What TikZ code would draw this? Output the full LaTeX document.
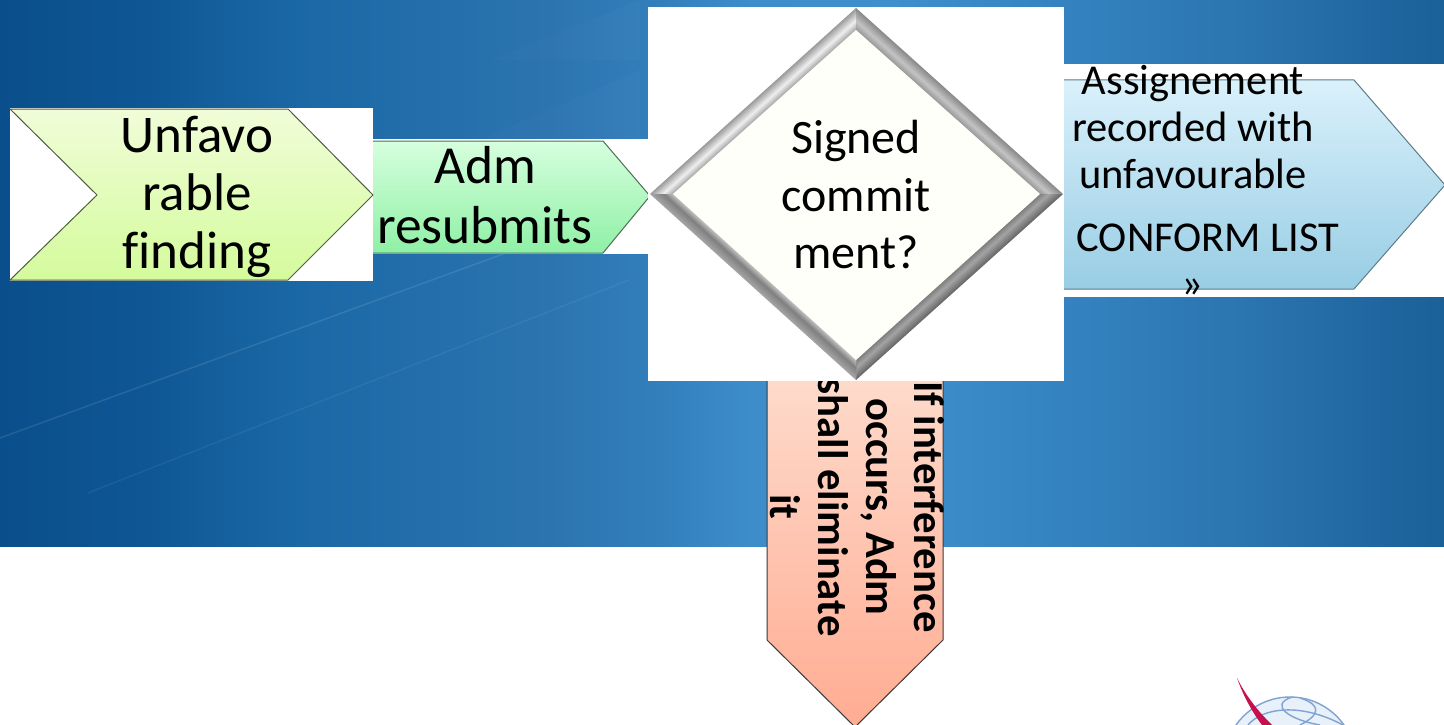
\documentclass[tikz,border=0pt]{standalone}
\usepackage{fontspec}
\setmainfont[Ligatures=NoCommon]{Carlito}
\usetikzlibrary{calc}
\definecolor{chevT}{HTML}{F0FDD8}
\definecolor{chevB}{HTML}{D4FB9C}
\definecolor{chevE}{HTML}{4E5E40}
\definecolor{admT}{HTML}{D6FFDE}
\definecolor{admB}{HTML}{8FF0A5}
\definecolor{admE}{HTML}{4E6E58}
\definecolor{recT}{HTML}{DAF1FB}
\definecolor{recB}{HTML}{98CDE4}
\definecolor{recE}{HTML}{5E7A88}
\definecolor{warnT}{HTML}{FEDBCC}
\definecolor{warnB}{HTML}{FFAC92}
\definecolor{warnE}{HTML}{3A3A3A}
\definecolor{dfill}{HTML}{FEFFF8}
\definecolor{globeL}{HTML}{7FA3D2}
\definecolor{globeF}{HTML}{E8F0FA}
\definecolor{needle}{HTML}{C80F4E}
\definecolor{gA}{HTML}{9A9A9A}
\definecolor{gB}{HTML}{EFEFEF}
\definecolor{gC}{HTML}{B0B0B0}
\definecolor{hA}{HTML}{8A8A8A}
\definecolor{hB}{HTML}{C4C4C4}
\definecolor{hC}{HTML}{9C9C9C}
\definecolor{jA}{HTML}{6A6A6A}
\definecolor{jB}{HTML}{A4A4A4}
\definecolor{jC}{HTML}{7F7F7F}
\definecolor{kA}{HTML}{A4A4A4}
\definecolor{kB}{HTML}{808080}
\definecolor{kC}{HTML}{BDBDBD}
\pgfdeclarehorizontalshading{slidebg}{100bp}{
  rgb(0bp)=(0.039,0.31,0.55);
  rgb(25bp)=(0.039,0.31,0.55);
  rgb(30bp)=(0.055,0.34,0.58);
  rgb(35.4bp)=(0.106,0.408,0.65);
  rgb(44bp)=(0.169,0.455,0.69);
  rgb(48bp)=(0.20,0.50,0.74);
  rgb(51bp)=(0.243,0.553,0.796);
  rgb(56bp)=(0.245,0.56,0.80);
  rgb(61bp)=(0.208,0.52,0.76);
  rgb(68bp)=(0.169,0.459,0.69);
  rgb(75bp)=(0.102,0.376,0.60);
  rgb(100bp)=(0.102,0.376,0.60)}
\tikzset{
  x=1pt,y=-1pt,
  lbl/.style={align=center,inner sep=0pt,text=black},
  panel/.style={fill=white,draw=none},
  streak/.style={draw=white,draw opacity=0.10,line width=1.5pt},
  faint/.style={fill=white,fill opacity=0.02,draw=none},
  tag/.style n args={3}{top color=#1,bottom color=#2,draw=#3,line width=1pt},
}
\newcommand{\fs}[2]{\fontsize{#1}{#2}\selectfont}
% bevel side: outer a, outer b, inner a, inner b, three colours
\newcommand{\bevelside}[7]{%
  \foreach \t in {0,...,15}{%
    \pgfmathsetmacro\fa{\t/16}%
    \pgfmathsetmacro\pa{\t<9 ? \t/9*100 : 100}%
    \pgfmathsetmacro\pb{\t<9 ? 0 : (\t-9)/6*100}%
    \colorlet{bandc}{#6!\pa!#5}%
    \colorlet{bandc}{#7!\pb!bandc}%
    \fill[bandc] ($(#1)!\fa!(#3)$) -- (#3) -- (#4) -- ($(#2)!\fa!(#4)$) -- cycle;
  }}
\begin{document}
\begin{tikzpicture}
\useasboundingbox (0,0) rectangle (1444,725);
\clip (0,0) rectangle (1444,725);
% background
\fill[white] (0,0) rectangle (1444,725);
\path[shading=slidebg] (0,0) rectangle (1444,546);
\draw[streak] (0,438) -- (432,280) -- (640,204);
\draw[streak,draw opacity=0.06] (88,493) -- (629,280);
\fill[faint] (480,140) -- (640,70) -- (640,140) -- cycle;
\fill[faint] (490,60) -- (640,0) -- (640,60) -- cycle;

% adm pentagon
\fill[panel] (373,139) rectangle (650,254);
\shade[tag={admT}{admB}{admE}]
  (360,141) -- (603,141) -- (650,196) -- (603,253) -- (360,253) -- cycle;
\node[lbl,font=\fs{53.5}{60}] (adm) at (485,195) {Adm\\resubmits};

% chevron
\fill[panel] (10,108) rectangle (373,281);
\shade[tag={chevT}{chevB}{chevE}]
  (10,109) -- (288,109) -- (373,195) -- (288,280) -- (10,280) -- (97,195) -- cycle;
\node[lbl,font=\fs{53}{58}] (unfav) at (197,197) {Unfavo\\rable\\finding};

% right pentagon
\fill[panel] (1064,64) rectangle (1444,297);
\shade[tag={recT}{recB}{recE}]
  (1050,80) -- (1354,80) -- (1445,185) -- (1354,289) -- (1050,289) -- cycle;
\node[lbl,font=\fs{42.5}{47}] (assign) at (1193,127) {Assignement\\recorded with\\unfavourable};
\node[lbl,font=\fs{42.5}{47}] (conform) at (1208,238) {CONFORM LIST};
\node[lbl,font=\fs{42.5}{47}] (quote) at (1192,288) {»};

% down arrow
\shade[tag={warnT}{warnB}{warnE}]
  (767,375) -- (943,375) -- (943,640) -- (855,727) -- (767,640) -- cycle;
\node[lbl,font=\fs{42.7}{48}\bfseries,rotate=-90] (interf) at (857,507) {If interference\\occurs, Adm\\shall eliminate\\it};

% diamond panel and bevel
\fill[panel] (648,7) rectangle (1064,381);
\coordinate (dT) at (856,8);
\coordinate (dR) at (1063,194);
\coordinate (dB) at (856,380);
\coordinate (dL) at (650,194);
\coordinate (iT) at (856,30);
\coordinate (iR) at (1040,194);
\coordinate (iB) at (856,360);
\coordinate (iL) at (673,194);
\bevelside{dT}{dL}{iT}{iL}{gA}{gB}{gC}
\bevelside{dT}{dR}{iT}{iR}{hA}{hB}{hC}
\bevelside{dB}{dR}{iB}{iR}{jA}{jB}{jC}
\bevelside{dB}{dL}{iB}{iL}{kA}{kB}{kC}
\fill[dfill] (iT) -- (iR) -- (iB) -- (iL) -- cycle;
\node[lbl,font=\fs{48}{57.5}] (signed) at (856,195) {Signed\\commit\\ment?};

% logo
\fill[globeF] (1290,763) circle (66);
\begin{scope}[draw=globeL,line width=1.4pt]
\draw (1290,763) circle (66);
\draw (1248,725) .. controls (1262,708) and (1300,702) .. (1343,725);
\draw (1292,697) .. controls (1268,705) and (1290,720) .. (1320,725);
\draw (1300,698) .. controls (1322,705) and (1320,715) .. (1300,725);
\end{scope}
\fill[needle] (1237,678) .. controls (1248,700) and (1262,715) .. (1272,725) -- (1262,725)
  .. controls (1252,712) and (1243,695) .. (1237,678) -- cycle;
\end{tikzpicture}
\end{document}
